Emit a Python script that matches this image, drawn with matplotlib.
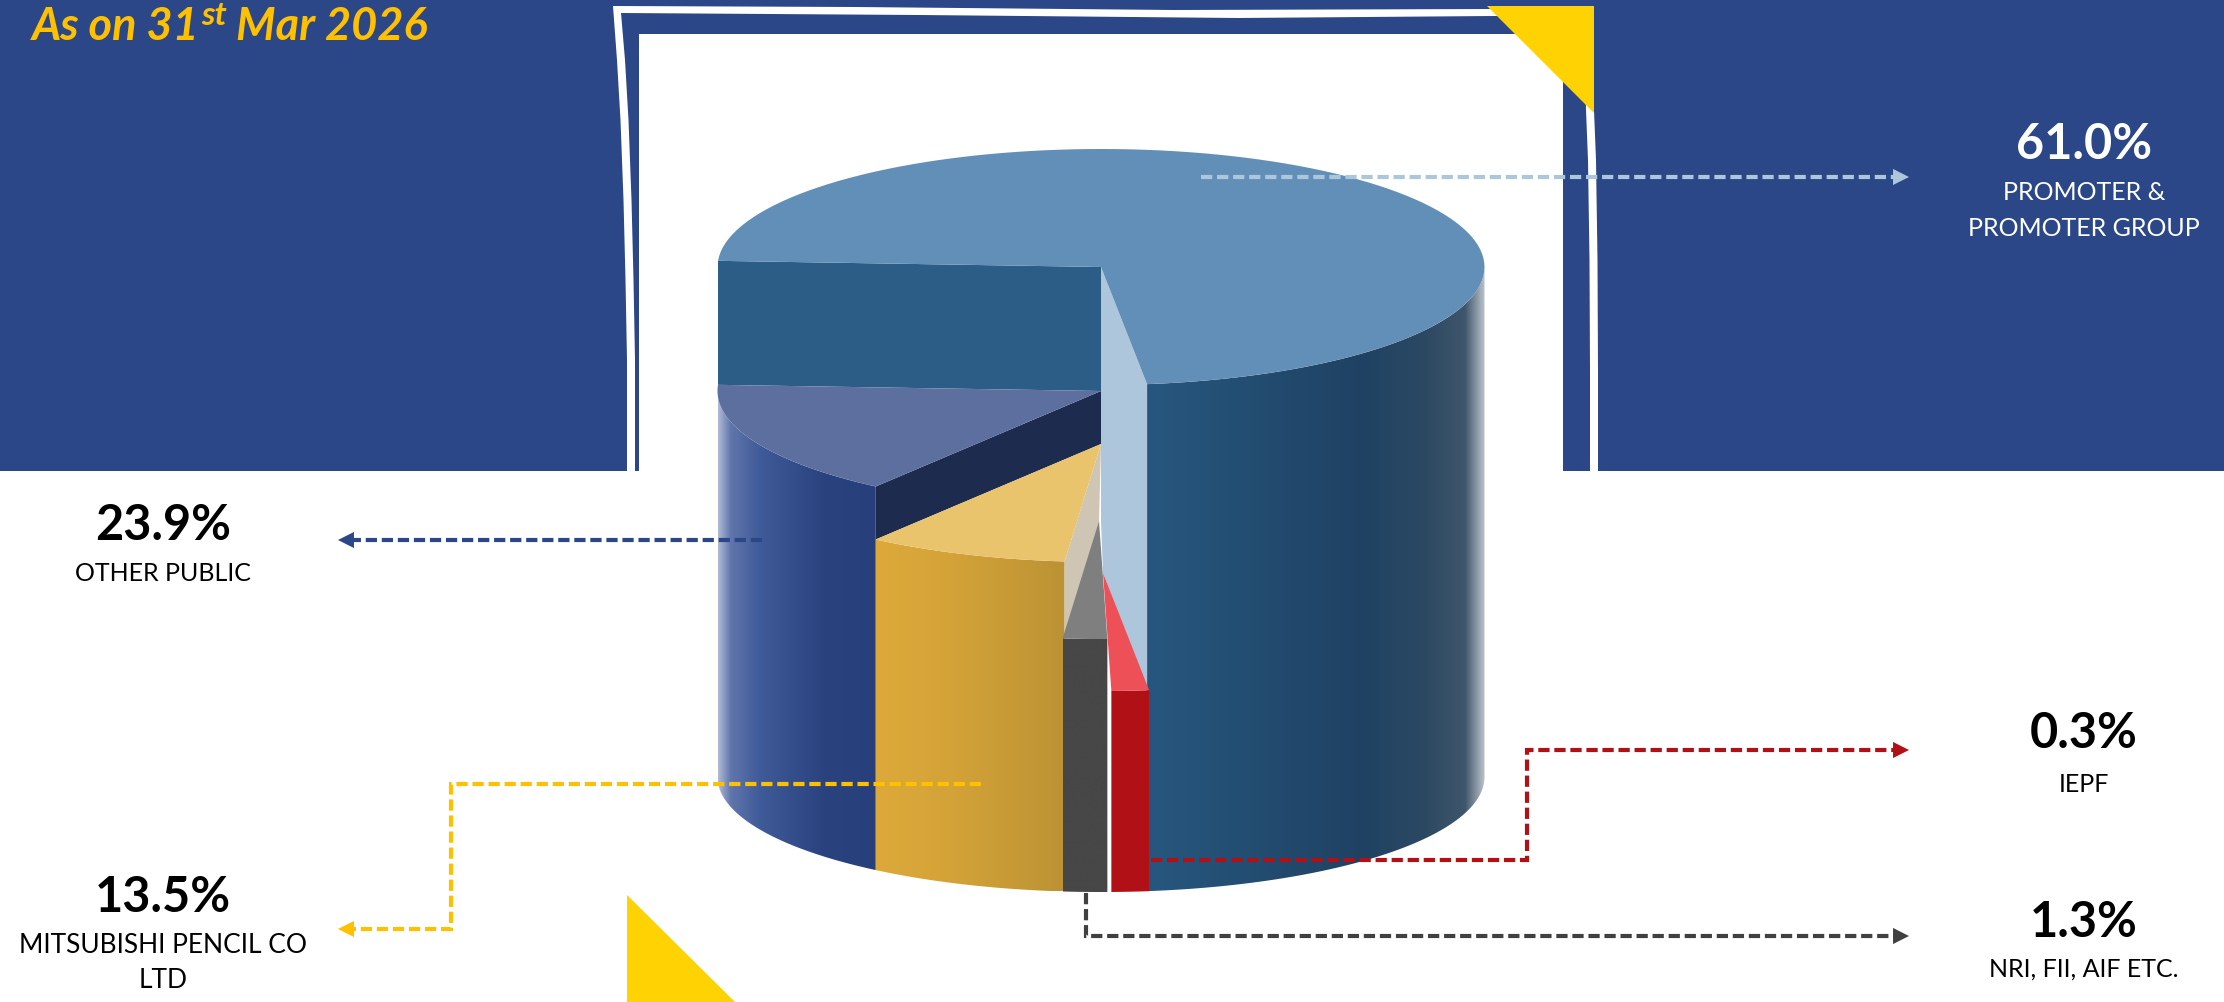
import numpy as np
import matplotlib
matplotlib.use("Agg")
import matplotlib.pyplot as plt
from matplotlib.colors import to_rgb
from matplotlib.patches import Polygon, Rectangle

# shareholding, in the order the wedges run clockwise
names = ["promoter", "iepf", "nri", "mitsubishi", "public"]
shares = [61.0, 0.3, 1.3, 13.5, 23.9]
share_text = ["61.0%", "0.3%", "1.3%", "13.5%", "23.9%"]
label_lines = [
    ["PROMOTER &", "PROMOTER GROUP"],
    ["IEPF"],
    ["NRI, FII, AIF ETC."],
    ["MITSUBISHI PENCIL CO", "LTD"],
    ["OTHER PUBLIC"],
]

BLUE = "#2B4787"
YELLOW = "#FFD204"
GOLD = "#FFC000"

# the wedges are not to scale in this graphic: the rear one is widened and the
# tiny ones stretched so they can be seen, then everything is normalised to 360
wedge_stretch = [1.184, 5.23, 1.43, 0.628, 0.6625]
start_angle = -87.0

# cylinder layout in pixels
cx, rx, ry = 1101, 383.5, 118
base_y = 777
base_ry = 115
pivot_y = [267, 573, 521, 444, 391]
pivot_x = [1101, 1103, 1099, 1101, 1101]
top_colors = ["#628FB8", "#EE5057", "#7F7F7F", "#E9C46C", "#5C6F9F"]
side_stops = [
    [(1148, "#27577F"), (1363, "#1F4263"), (1426, "#2C4962"), (1465, "#3F566C"), (1484, "#B8C0C8")],
    [(1112, "#B11116"), (1150, "#B11116")],
    [(1062, "#474747"), (1107, "#474747")],
    [(875, "#DDA93A"), (960, "#D2A238"), (1064, "#BB9234")],
    [(717, "#B4BDD6"), (730, "#6076AC"), (760, "#3F5A98"), (823, "#2A437F"), (875, "#27407C")],
]

sweeps = np.array(shares) * np.array(wedge_stretch)
sweeps = sweeps / sweeps.sum() * 360
edges = start_angle + np.concatenate([[0], np.cumsum(sweeps)])


def top_arc(i, a0, a1, n=120):
    phi = np.radians(np.linspace(a0, a1, n))
    return np.column_stack([pivot_x[i] + rx * np.sin(phi), pivot_y[i] - ry * np.cos(phi)])


def base_arc(i, a0, a1, n=120):
    phi = np.radians(np.linspace(a0, a1, n))
    return np.column_stack([pivot_x[i] + rx * np.sin(phi), base_y - base_ry * np.cos(phi)])


def gradient_patch(ax, verts, stops, zorder):
    xs = [s[0] for s in stops]
    cols = np.array([to_rgb(s[1]) for s in stops])
    x0, x1 = verts[:, 0].min(), verts[:, 0].max()
    y0, y1 = verts[:, 1].min(), verts[:, 1].max()
    grid = np.linspace(x0, x1, 400)
    img = np.stack([np.interp(grid, xs, cols[:, k]) for k in range(3)], axis=-1)[None, :, :]
    im = ax.imshow(img, extent=(x0, x1, y1, y0), aspect="auto", zorder=zorder, interpolation="bilinear")
    clip = Polygon(verts, closed=True, transform=ax.transData)
    im.set_clip_path(clip)


def leader(ax, pts, color):
    pts = np.array(pts, dtype=float)
    d = pts[-1] - pts[-2]
    base = pts[-1] - d / np.abs(d).sum() * 15
    line = np.vstack([pts[:-1], base])
    ax.plot(line[:, 0], line[:, 1], color=color, lw=3.0, ls=(0, (2.7, 1.15)),
            dash_capstyle="butt", dash_joinstyle="miter", zorder=20)
    ax.annotate("", xy=pts[-1], xytext=base,
                arrowprops=dict(arrowstyle="-|>,head_length=1.15,head_width=0.58", mutation_scale=10,
                                color=color, lw=0, shrinkA=0, shrinkB=0), zorder=21)


plt.rcParams["font.family"] = ["Lato", "DejaVu Sans"]
fig = plt.figure(figsize=(22.24, 10.02), dpi=100)
ax = fig.add_axes([0, 0, 1, 1])

# banner and sketched frame
ax.add_patch(Rectangle((0, 0), 2224, 471, color=BLUE, lw=0, zorder=1))
ax.add_patch(Rectangle((639, 34), 924, 437, color="white", lw=0, zorder=2))
ax.add_patch(Polygon([(613, 6), (855, 7), (1174, 10), (1493, 9), (1594, 9), (1594, 110), (1596, 160),
                      (1597.5, 260), (1598, 370), (1598, 471), (1590, 471), (1590, 370), (1589.5, 260),
                      (1588, 160), (1586, 110), (1584, 16), (1493, 16), (1238, 18), (919, 15), (621, 13),
                      (625, 60), (628.5, 120), (631.5, 200), (633.5, 280), (635, 360), (635, 471),
                      (627, 471), (627, 360), (625.5, 280), (623.5, 200), (620.5, 120), (617, 60)],
                     color="white", lw=0, zorder=3))
ax.add_patch(Polygon([(1487, 6), (1594, 6), (1594, 113)], color=YELLOW, lw=0, zorder=4))
ax.add_patch(Polygon([(627, 895), (627, 1002), (735, 1002)], color=YELLOW, lw=0, zorder=4))

# outer walls, back to front so the nearer wedge overlaps its neighbour
for z, i in enumerate([0, 4, 3, 2, 1]):
    a0, a1 = edges[i], edges[i + 1]
    if i == 0:
        # the promoter wall only shows from the right-hand rim round to the front
        top = top_arc(i, 90, a1)
        bottom = base_arc(i, a1, 90)
    else:
        top = top_arc(i, a0, a1)
        bottom = base_arc(i, a1, a0)
    gradient_patch(ax, np.vstack([top, bottom]), side_stops[i], 5 + z)

# cut faces between the pulled-out wedges
p_end = top_arc(0, edges[1], edges[1], 1)[0]
m_end = top_arc(3, edges[3], edges[3], 1)[0]
r_end = top_arc(1, edges[1], edges[1], 1)[0]
ax.add_patch(Polygon([top_arc(0, edges[0], edges[0], 1)[0], (cx, pivot_y[0]), (cx, pivot_y[4]),
                      top_arc(4, edges[5], edges[5], 1)[0]], color="#2C5D87", lw=0, zorder=11))
ax.add_patch(Polygon([(cx, pivot_y[0]), p_end, (p_end[0], r_end[1]), (pivot_x[1], pivot_y[1]),
                      (cx, pivot_y[2])], color="#AEC6DC", lw=0, zorder=11))
pub_end = top_arc(4, edges[4], edges[4], 1)[0]
ax.add_patch(Polygon([(cx, pivot_y[4]), pub_end, (pub_end[0], pub_end[1] + 53), (cx, pivot_y[3])],
                     color="#1D2C4E", lw=0, zorder=11))
ax.add_patch(Polygon([(cx, pivot_y[3]), m_end, (m_end[0], top_arc(2, edges[3], edges[3], 1)[0][1]),
                      (pivot_x[2], pivot_y[2])], color="#CEC5B4", lw=0, zorder=11))

# top faces
for i in range(len(shares)):
    verts = np.vstack([[pivot_x[i], pivot_y[i]], top_arc(i, edges[i], edges[i + 1])])
    ax.add_patch(Polygon(verts, color=top_colors[i], lw=0, zorder=12 + (i in (1, 2))))

# dashed call-outs
leader(ax, [(1201, 177), (1909, 177)], "#ACC6DC")
leader(ax, [(762, 540), (338, 540)], BLUE)
leader(ax, [(981, 784), (451, 784), (451, 929), (338, 929)], GOLD)
leader(ax, [(1151, 860), (1527, 860), (1527, 750), (1909, 750)], "#B11116")
leader(ax, [(1086, 893), (1086, 936), (1909, 936)], "#404040")

# labels: x centre, baseline of the figure, first baseline of the caption
label_pos = [(2084, 159, 200), (2084, 748, 792), (2084, 937, 977), (163, 912, 953), (163, 540, 581)]
label_colors = ["white", "black", "black", "black", "black"]
label_sizes = [18, 18, 18, 19, 18]
line_gap = 35.5
for i, (x, y_big, y_small) in enumerate(label_pos):
    ax.text(x, y_big, share_text[i], ha="center", va="baseline", fontsize=35, fontweight="bold",
            color=label_colors[i], zorder=30)
    for k, line in enumerate(label_lines[i]):
        ax.text(x, y_small + k * line_gap, line, ha="center", va="baseline", fontsize=label_sizes[i],
                color=label_colors[i], zorder=30)

# title, with the raised ordinal set by hand
title_kw = dict(va="baseline", fontweight="bold", fontstyle="italic", color=GOLD, zorder=30)
ax.text(32, 40, "As on 31", fontsize=32.5, **title_kw)
ax.text(201, 25, "st", fontsize=24, **title_kw)
ax.text(236, 40, "Mar 2026", fontsize=32.5, **title_kw)

ax.set_xlim(0, 2224)
ax.set_ylim(1002, 0)
ax.axis("off")
fig.savefig("out.png", dpi=100, facecolor="white")
